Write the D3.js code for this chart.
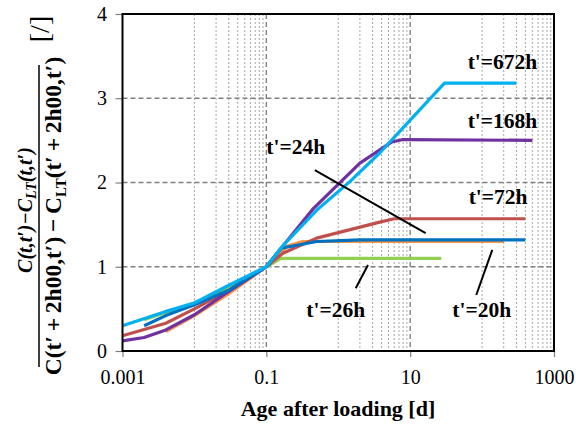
<!DOCTYPE html>
<html>
<head>
<meta charset="utf-8">
<script src="https://cdn.jsdelivr.net/npm/d3@7"></script>
<style>
  body { margin: 0; background: #fff; }
  text { font-family: "Liberation Serif", "Times New Roman", serif; fill: #000; }
</style>
</head>
<body>
<div id="chart-area"></div>
<script>
/* data */
const labels = ["t'=20h", "t'=26h", "t'=72h", "t'=168h", "t'=24h", "t'=672h"]
const colors = ["#F79646", "#92D050", "#C0504D", "#7030A0", "#0070C0", "#00B0F0"]

const age20 = [0.004, 0.01, 0.03, 0.1, 0.2, 0.32, 200]
const ratio20 = [0.23, 0.42, 0.68, 1.0, 1.25, 1.30, 1.30]
const age26 = [0.002, 0.01, 0.04, 0.1, 0.16, 27]
const ratio26 = [0.37, 0.57, 0.80, 1.0, 1.1, 1.1]
const age72 = [0.001, 0.004, 0.01, 0.03, 0.1, 0.17, 0.5, 3.77, 6, 400]
const ratio72 = [0.18, 0.33, 0.5, 0.72, 1.0, 1.16, 1.34, 1.53, 1.57, 1.57]
const age168 = [0.001, 0.002, 0.004, 0.01, 0.027, 0.1, 0.2, 0.45, 2, 5.5, 8, 500]
const ratio168 = [0.12, 0.16, 0.25, 0.43, 0.68, 1.0, 1.32, 1.69, 2.23, 2.48, 2.51, 2.5]
const age24 = [0.002, 0.004, 0.01, 0.03, 0.1, 0.16, 0.5, 2, 400]
const ratio24 = [0.30, 0.42, 0.55, 0.72, 1.0, 1.22, 1.30, 1.32, 1.32]
const age672 = [0.001, 0.004, 0.01, 0.027, 0.1, 0.17, 0.5, 1.45, 3.77, 10, 30, 300]
const ratio672 = [0.30, 0.47, 0.57, 0.76, 1.0, 1.25, 1.67, 2.01, 2.35, 2.74, 3.18, 3.18]

const xTicks = [0.001, 0.1, 10, 1000]
const xTickLabels = ["0.001", "0.1", "10", "1000"]
const yTicks = [0, 1, 2, 3, 4]
const xMinorGrid = [0.01, 0.02, 0.03, 0.04, 0.05, 0.06, 0.07, 0.08, 0.09,
	1, 2, 3, 4, 5, 6, 7, 8, 9, 100, 200, 300, 400, 500, 600, 700, 800, 900]

// label text anchors [age, ratio] and leader lines [[age, ratio], [age, ratio]]
const labelPos = [[38.5, 0.40], [0.36, 0.40], [65, 1.745], [63, 2.65], [0.1, 2.34], [63, 3.35]]
const leaders = [
	[[138.6, 1.20], [83, 0.665]],
	[[2.59, 1.02], [1.75, 0.744]],
	null,
	null,
	[[0.472, 2.148], [16.4, 1.40]],
	null
]

const ages = [age20, age26, age72, age168, age24, age672]
const ratios = [ratio20, ratio26, ratio72, ratio168, ratio24, ratio672]
const series = labels.map((name, i) => ({
	name,
	color: colors[i],
	points: ages[i].map((a, j) => ({ age: a, ratio: ratios[i][j] }))
}))
// draw order: green, orange, red, purple, dark blue, light blue
const drawOrder = [1, 0, 2, 3, 4, 5]

/* Canvas */
const CANVAS_WIDTH = 576
const CANVAS_HEIGHT = 426
const margin = { top: 14, bottom: 75, left: 122.5, right: 22 }
const width = CANVAS_WIDTH - margin.left - margin.right
const height = CANVAS_HEIGHT - margin.top - margin.bottom

const $svg = d3.select('#chart-area')
	.append('svg')
	.attr('width', CANVAS_WIDTH)
	.attr('height', CANVAS_HEIGHT)

const $scene = $svg.append('g')
	.attr('transform', `translate(${margin.left}, ${margin.top})`)

/* Scales */
const xScale = d3.scaleLog()
	.domain([0.001, 1000])
	.range([0, width])

const yScale = d3.scaleLinear()
	.domain([0, 4])
	.range([height, 0])

/* Grid */
const $grid = $scene.append('g')
$grid.selectAll('.minor')
	.data(xMinorGrid)
	.enter()
	.append('line')
	.attr('x1', d => xScale(d))
	.attr('x2', d => xScale(d))
	.attr('y1', 0)
	.attr('y2', height)
	.attr('stroke', '#a6a6a6')
	.attr('stroke-width', 1)
	.attr('stroke-dasharray', '2,2')

$grid.selectAll('.major-x')
	.data([0.1, 10])
	.enter()
	.append('line')
	.attr('x1', d => xScale(d))
	.attr('x2', d => xScale(d))
	.attr('y1', 0)
	.attr('y2', height)
	.attr('stroke', '#808080')
	.attr('stroke-width', 1.4)
	.attr('stroke-dasharray', '5,3')

$grid.selectAll('.major-y')
	.data([1, 2, 3])
	.enter()
	.append('line')
	.attr('x1', 0)
	.attr('x2', width)
	.attr('y1', d => yScale(d))
	.attr('y2', d => yScale(d))
	.attr('stroke', '#808080')
	.attr('stroke-width', 1.4)
	.attr('stroke-dasharray', '5,3')

/* Axes */
const xAxisCall = d3.axisBottom(xScale)
	.tickValues(xTicks)
	.tickFormat((d, i) => xTickLabels[i])
	.tickSize(6)
	.tickPadding(13)

const yAxisCall = d3.axisLeft(yScale)
	.tickValues(yTicks)
	.tickFormat(d3.format('d'))
	.tickSize(7)
	.tickPadding(8.5)

const $xAxisGroup = $scene.append('g')
	.attr('transform', `translate(0, ${height})`)
	.call(xAxisCall)

const $yAxisGroup = $scene.append('g')
	.call(yAxisCall)

;[$xAxisGroup, $yAxisGroup].forEach($g => {
	$g.select('.domain').remove()
	$g.selectAll('line').attr('stroke', '#808080').attr('stroke-width', 1.2)
	$g.selectAll('text')
		.attr('font-size', 20)
		.attr('font-family', '"Liberation Serif", serif')
		.attr('fill', '#000')
})

/* Lines */
const line = d3.line()
	.x(d => xScale(d.age))
	.y(d => yScale(d.ratio))

const $vizContainer = $scene.append('g')
$vizContainer.selectAll('path')
	.data(drawOrder.map(i => series[i]))
	.enter()
	.append('path')
	.attr('d', d => line(d.points))
	.attr('fill', 'none')
	.attr('stroke', d => d.color)
	.attr('stroke-width', 3.2)
	.attr('stroke-linejoin', 'round')

/* Frame */
$scene.append('rect')
	.attr('width', width)
	.attr('height', height)
	.attr('fill', 'none')
	.attr('stroke', '#000')
	.attr('stroke-width', 2)

/* Series labels */
const $labelsContainer = $scene.append('g')
$labelsContainer.selectAll('line')
	.data(leaders.filter(d => d))
	.enter()
	.append('line')
	.attr('x1', d => xScale(d[0][0]))
	.attr('y1', d => yScale(d[0][1]))
	.attr('x2', d => xScale(d[1][0]))
	.attr('y2', d => yScale(d[1][1]))
	.attr('stroke', '#000')
	.attr('stroke-width', 2)

$labelsContainer.selectAll('text')
	.data(labels)
	.enter()
	.append('text')
	.attr('x', (d, i) => xScale(labelPos[i][0]))
	.attr('y', (d, i) => yScale(labelPos[i][1]))
	.attr('font-size', 21.5)
	.attr('font-weight', 'bold')
	.text(d => d)

/* Axis titles */
$svg.append('text')
	.attr('x', 338)
	.attr('y', 416)
	.attr('text-anchor', 'middle')
	.attr('font-size', 22)
	.attr('font-weight', 'bold')
	.text('Age after loading [d]')

const $yTitle = $svg.append('g')

const $num = $yTitle.append('text')
	.attr('transform', 'translate(32, 210) rotate(-90)')
	.attr('text-anchor', 'middle')
	.attr('font-size', 20)
	.attr('font-weight', 'bold')
	.attr('font-style', 'italic')
$num.append('tspan').text('C(t,t\u2032)\u2212C')
$num.append('tspan').attr('font-size', 14).attr('dy', 4).text('LT')
$num.append('tspan').attr('dy', -4).text('(t,t\u2032)')

$yTitle.append('line')
	.attr('x1', 39).attr('x2', 39)
	.attr('y1', 65).attr('y2', 367)
	.attr('stroke', '#000')
	.attr('stroke-width', 1.5)

const $den = $yTitle.append('text')
	.attr('transform', 'translate(61, 216) rotate(-90)')
	.attr('text-anchor', 'middle')
	.attr('font-size', 23.5)
	.attr('font-weight', 'bold')
$den.append('tspan').text('C(t\u2032\u2009+\u20092h00,t\u2032)\u2009\u2212\u2009C')
$den.append('tspan').attr('font-size', 15).attr('dy', 5).text('LT')
$den.append('tspan').attr('dy', -5).text('(t\u2032\u2009+\u20092h00,t\u2032)')

$yTitle.append('text')
	.attr('transform', 'translate(49, 29) rotate(-90)')
	.attr('text-anchor', 'middle')
	.attr('font-size', 28)
	.text('[/]')
</script>
</body>
</html>
